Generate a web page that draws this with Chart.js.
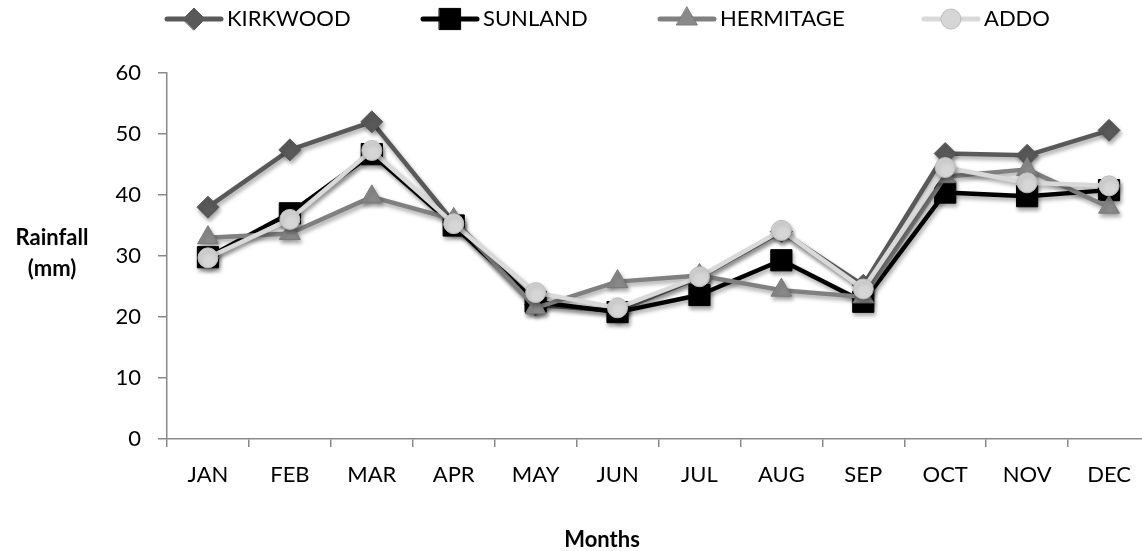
<!DOCTYPE html>
<html lang="en">
<head>
  <meta charset="UTF-8">
  <title>Monthly rainfall</title>
  <script src="https://cdn.jsdelivr.net/npm/chart.js"></script>
  <style>
    html, body { margin: 0; padding: 0; background: #fff; overflow: hidden; }
    .wrap { width: 1166px; height: 551px; }
  </style>
</head>
<body>
  <div class="wrap">
    <canvas id="rainChart" width="1166" height="551"></canvas>
  </div>

  <script>
    // data (mm)
    const months = ['JAN', 'FEB', 'MAR', 'APR', 'MAY', 'JUN', 'JUL', 'AUG', 'SEP', 'OCT', 'NOV', 'DEC'];
    const kirkwood = [38, 47.4, 52, 35.5, 22, 21, 26.5, 34, 25.2, 46.8, 46.5, 50.6];
    const sunland = [29.8, 37, 46.7, 35, 22.5, 20.8, 23.6, 29.3, 22.5, 40.4, 39.8, 40.8];
    const hermitage = [33, 33.7, 39.7, 36, 21.5, 25.8, 26.8, 24.4, 23.3, 43, 44.2, 38];
    const addo = [29.7, 36, 47.3, 35.3, 24, 21.5, 26.6, 34.2, 24.6, 44.5, 42, 41.5];
    const yTicks = [0, 10, 20, 30, 40, 50, 60];

    const FONT = 'Lato, "Open Sans", sans-serif';
    const AXIS = '#898989';

    const series = [
      { label: 'KIRKWOOD', data: kirkwood, color: '#595959', fill: '#595959', edge: '#595959', style: 'rectRot', r: 11, order: 3 },
      { label: 'SUNLAND', data: sunland, color: '#000000', fill: '#000000', edge: '#000000', style: 'rect', r: 15, order: 2 },
      { label: 'HERMITAGE', data: hermitage, color: '#808080', fill: '#8a8a8a', edge: '#7a7a7a', style: 'triangle', r: 12, order: 1 },
      { label: 'ADDO', data: addo, color: '#d9d9d9', fill: '#d6d6d6', edge: '#bdbdbd', style: 'circle', r: 10, order: 0 }
    ];

    // legend line starts (px) and shadows, drawn by hand like the office chart
    const legendX = [167, 423, 660, 924];

    const extras = {
      id: 'extras',
      beforeDatasetDraw(chart) {
        const c = chart.ctx;
        c.save();
        c.shadowColor = 'rgba(0,0,0,0.35)';
        c.shadowBlur = 4;
        c.shadowOffsetX = 1.5;
        c.shadowOffsetY = 3;
      },
      afterDatasetDraw(chart) {
        chart.ctx.restore();
      },
      afterDraw(chart) {
        const c = chart.ctx;
        c.save();
        // legend
        series.forEach((s, i) => {
          const x0 = legendX[i], y = 19;
          c.strokeStyle = s.color;
          c.lineWidth = 5;
          c.lineCap = 'round';
          c.beginPath();
          c.moveTo(x0, y);
          c.lineTo(x0 + 54, y);
          c.stroke();
          c.fillStyle = s.fill;
          c.strokeStyle = s.edge;
          c.lineWidth = 1;
          Chart.helpers.drawPoint(c, { pointStyle: s.style, radius: s.r, rotation: 0, borderWidth: 1 }, x0 + 27, y);
          c.fillStyle = '#000';
          c.font = '22px ' + FONT;
          c.textAlign = 'left';
          c.textBaseline = 'middle';
          c.fillText(s.label, x0 + 60, y);
        });
        // axis titles
        c.font = 'bold 22px ' + FONT;
        c.textAlign = 'center';
        c.fillText('Rainfall', 52, 238);
        c.fillText('(mm)', 52, 269);
        c.fillText('Months', 602, 540);
        c.restore();
      }
    };

    const ctx = document.getElementById('rainChart').getContext('2d');
    new Chart(ctx, {
      type: 'line',
      data: {
        labels: months,
        datasets: series.map(s => ({
          label: s.label,
          data: s.data,
          order: s.order,
          borderColor: s.color,
          borderWidth: 4.5,
          borderJoinStyle: 'round',
          borderCapStyle: 'round',
          tension: 0,
          pointStyle: s.style,
          pointRadius: s.r,
          pointHoverRadius: s.r,
          pointBackgroundColor: s.fill,
          pointBorderColor: s.edge,
          pointBorderWidth: 1
        }))
      },
      options: {
        responsive: false,
        animation: false,
        layout: { padding: { top: 73, right: 13, bottom: 0, left: 0 } },
        plugins: {
          legend: { display: false },
          title: { display: false },
          tooltip: { enabled: false }
        },
        scales: {
          x: {
            offset: true,
            afterFit(scale) { scale.height = 112; },
            grid: { offset: true, drawOnChartArea: false, drawTicks: true, tickLength: 8, color: AXIS, lineWidth: 1.5 },
            border: { color: AXIS, width: 1.5 },
            ticks: { color: '#000', padding: 15, font: { family: FONT, size: 22 } }
          },
          y: {
            min: yTicks[0],
            max: yTicks[yTicks.length - 1],
            afterFit(scale) { scale.width = 167; },
            afterBuildTicks(scale) { scale.ticks = yTicks.map(v => ({ value: v })); },
            grid: { drawOnChartArea: false, drawTicks: true, tickLength: 9, color: AXIS, lineWidth: 1.5 },
            border: { color: AXIS, width: 1.5 },
            ticks: { color: '#000', padding: 17, font: { family: FONT, size: 22 } }
          }
        }
      },
      plugins: [extras]
    });
  </script>
</body>
</html>
